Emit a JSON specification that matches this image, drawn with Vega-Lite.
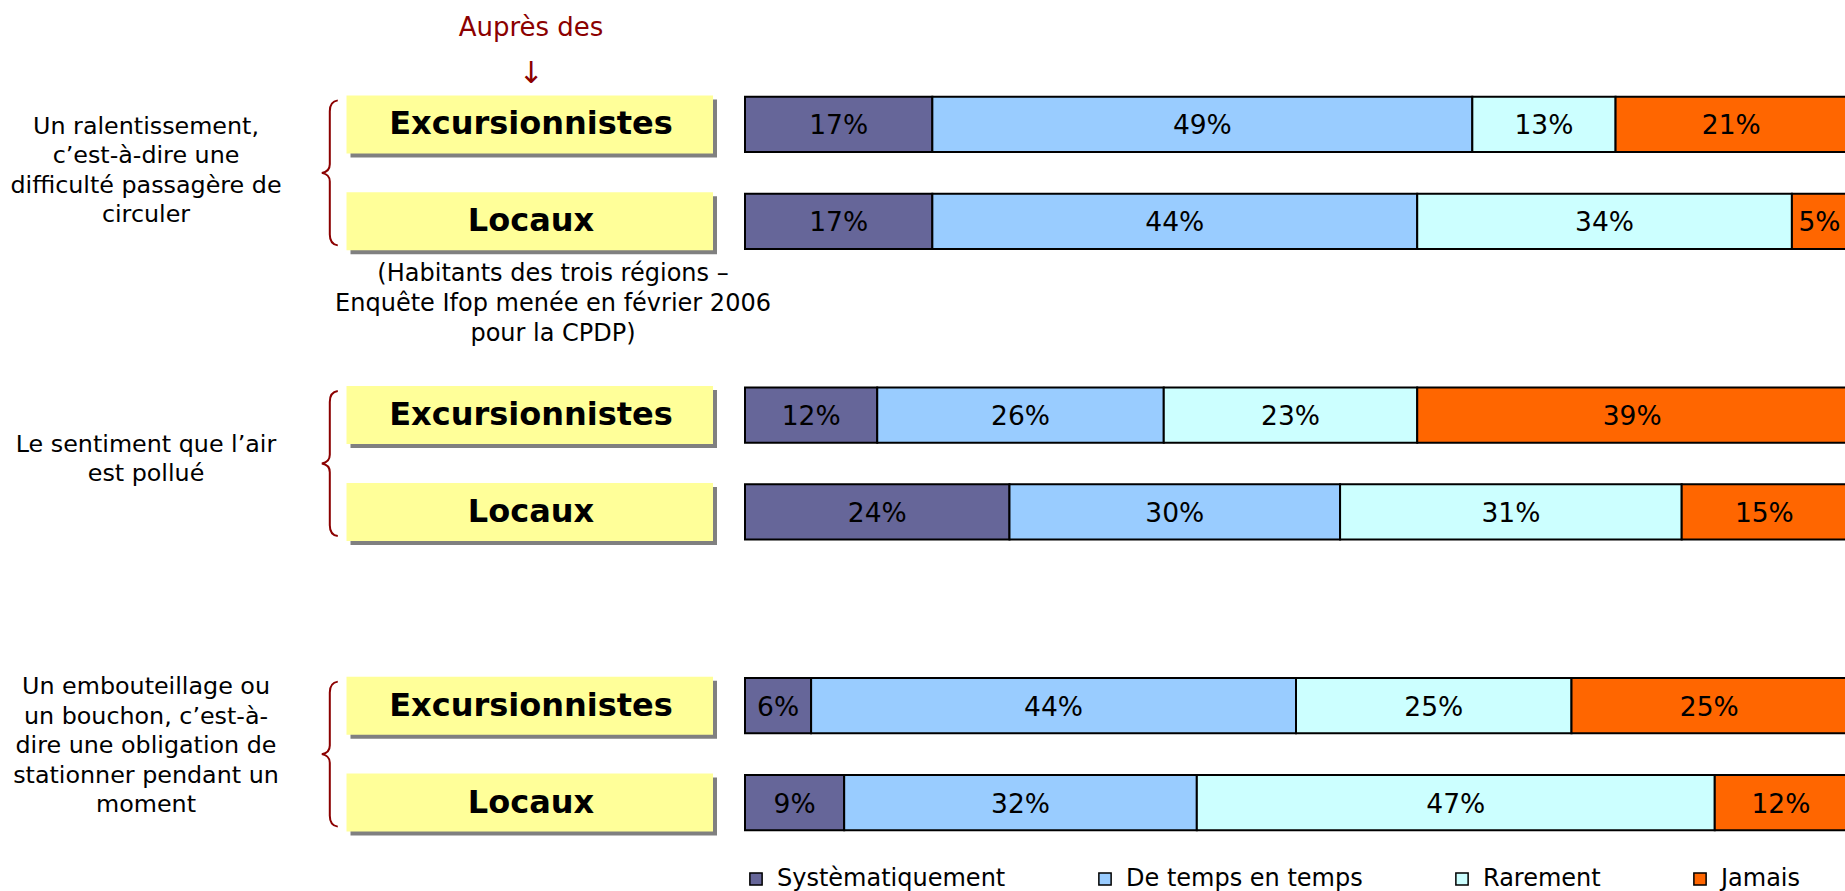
{
  "$schema": "https://vega.github.io/schema/vega-lite/v6.json",
  "width": 1845,
  "height": 891,
  "autosize": {"type": "fit", "contains": "padding"},
  "padding": 0,
  "background": "#ffffff",
  "config": {"view": {"stroke": null}, "font": "DejaVu Sans"},
  "datasets": {
    "survey": [
      {"question": "q1", "sample": "Excursionnistes", "response": "Systèmatiquement", "rank": 1, "share": 0.17},
      {"question": "q1", "sample": "Excursionnistes", "response": "De temps en temps", "rank": 2, "share": 0.49},
      {"question": "q1", "sample": "Excursionnistes", "response": "Rarement", "rank": 3, "share": 0.13},
      {"question": "q1", "sample": "Excursionnistes", "response": "Jamais", "rank": 4, "share": 0.21},
      {"question": "q1", "sample": "Locaux", "response": "Systèmatiquement", "rank": 1, "share": 0.17},
      {"question": "q1", "sample": "Locaux", "response": "De temps en temps", "rank": 2, "share": 0.44},
      {"question": "q1", "sample": "Locaux", "response": "Rarement", "rank": 3, "share": 0.34},
      {"question": "q1", "sample": "Locaux", "response": "Jamais", "rank": 4, "share": 0.05},
      {"question": "q2", "sample": "Excursionnistes", "response": "Systèmatiquement", "rank": 1, "share": 0.12},
      {"question": "q2", "sample": "Excursionnistes", "response": "De temps en temps", "rank": 2, "share": 0.26},
      {"question": "q2", "sample": "Excursionnistes", "response": "Rarement", "rank": 3, "share": 0.23},
      {"question": "q2", "sample": "Excursionnistes", "response": "Jamais", "rank": 4, "share": 0.39},
      {"question": "q2", "sample": "Locaux", "response": "Systèmatiquement", "rank": 1, "share": 0.24},
      {"question": "q2", "sample": "Locaux", "response": "De temps en temps", "rank": 2, "share": 0.30},
      {"question": "q2", "sample": "Locaux", "response": "Rarement", "rank": 3, "share": 0.31},
      {"question": "q2", "sample": "Locaux", "response": "Jamais", "rank": 4, "share": 0.15},
      {"question": "q3", "sample": "Excursionnistes", "response": "Systèmatiquement", "rank": 1, "share": 0.06},
      {"question": "q3", "sample": "Excursionnistes", "response": "De temps en temps", "rank": 2, "share": 0.44},
      {"question": "q3", "sample": "Excursionnistes", "response": "Rarement", "rank": 3, "share": 0.25},
      {"question": "q3", "sample": "Excursionnistes", "response": "Jamais", "rank": 4, "share": 0.25},
      {"question": "q3", "sample": "Locaux", "response": "Systèmatiquement", "rank": 1, "share": 0.09},
      {"question": "q3", "sample": "Locaux", "response": "De temps en temps", "rank": 2, "share": 0.32},
      {"question": "q3", "sample": "Locaux", "response": "Rarement", "rank": 3, "share": 0.47},
      {"question": "q3", "sample": "Locaux", "response": "Jamais", "rank": 4, "share": 0.12}
    ],
    "questions": [
      {"question": "q1", "label": "Un ralentissement,\nc’est-à-dire une\ndifficulté passagère de\ncirculer"},
      {"question": "q2", "label": "Le sentiment que l’air\nest pollué"},
      {"question": "q3", "label": "Un embouteillage ou\nun bouchon, c’est-à-\ndire une obligation de\nstationner pendant un\nmoment"}
    ]
  },
  "resolve": {"scale": {"x": "independent"}},
  "layer": [
    {
      "data": {"name": "survey"},
      "transform": [
        {"stack": "share", "groupby": ["question", "sample"], "sort": [{"field": "rank", "order": "ascending"}], "as": ["s0", "s1"]}
      ],
      "layer": [
        {
          "mark": {"type": "bar", "stroke": "#000000", "strokeWidth": 2},
          "encoding": {
            "y": {"field": "question", "type": "nominal", "scale": {"domain": ["q1", "q2", "q3"], "range": [76, 851], "paddingInner": 0.3333, "paddingOuter": 0}, "axis": null},
            "yOffset": {"field": "sample", "type": "nominal", "scale": {"domain": ["Excursionnistes", "Locaux"], "paddingInner": 0.43, "paddingOuter": 0.215}},
            "x": {"field": "s0", "type": "quantitative", "scale": {"domain": [0, 1], "range": [745, 1847], "nice": false, "zero": false}, "axis": null},
            "x2": {"field": "s1"},
            "color": {
              "field": "response",
              "type": "nominal",
              "scale": {"domain": ["Systèmatiquement", "De temps en temps", "Rarement", "Jamais"], "range": ["#666699", "#99CCFF", "#CCFFFF", "#FF6600"]},
              "legend": {
                "orient": "none", "legendX": 744, "legendY": 867, "direction": "horizontal", "title": null,
                "padding": 0, "symbolType": "square", "symbolSize": 150, "symbolStrokeColor": "#000000", "symbolStrokeWidth": 1.5,
                "labelFontSize": 24, "labelFont": "DejaVu Sans", "labelColor": "#000000", "labelOffset": 9,
                "columnPadding": 87, "labelLimit": 400
              }
            }
          }
        },
        {
          "transform": [
            {"fold": ["s0", "s1"], "as": ["edge", "pos"]},
            {"aggregate": [{"op": "mean", "field": "pos", "as": "mid"}], "groupby": ["question", "sample", "response", "share"]}
          ],
          "mark": {"type": "text", "fontSize": 26.5, "dy": 2, "color": "#000000", "baseline": "middle", "align": "center", "font": "DejaVu Sans"},
          "encoding": {
            "y": {"field": "question", "type": "nominal", "scale": {"domain": ["q1", "q2", "q3"], "range": [76, 851], "paddingInner": 0.3333, "paddingOuter": 0}, "axis": null},
            "yOffset": {"field": "sample", "type": "nominal", "scale": {"domain": ["Excursionnistes", "Locaux"], "paddingInner": 0.43, "paddingOuter": 0.215}},
            "x": {"field": "mid", "type": "quantitative", "scale": {"domain": [0, 1], "range": [745, 1847], "nice": false, "zero": false}, "axis": null},
            "text": {"field": "share", "type": "quantitative", "format": ".0%"}
          }
        }
      ]
    },
    {
      "layer": [
        {
          "data": {"name": "survey"},
          "transform": [{"aggregate": [{"op": "count", "as": "n"}], "groupby": ["question", "sample"]}],
          "mark": {"type": "point", "shape": "M-0.9025,-0.125L0.93,-0.125L0.93,0.165L-0.9025,0.165Z", "size": 160000, "filled": true, "fill": "#808080", "strokeWidth": 0, "opacity": 1},
          "encoding": {
            "x": {"datum": "sample", "type": "nominal", "scale": {"type": "point", "domain": ["question", "brace", "sample"], "range": [146, 531], "padding": 0}, "axis": null},
            "y": {"field": "question", "type": "nominal", "scale": {"domain": ["q1", "q2", "q3"], "range": [76, 851], "paddingInner": 0.3333, "paddingOuter": 0}, "axis": null},
            "yOffset": {"field": "sample", "type": "nominal", "scale": {"domain": ["Excursionnistes", "Locaux"], "paddingInner": 0.43, "paddingOuter": 0.215}}
          }
        },
        {
          "data": {"name": "survey"},
          "transform": [{"aggregate": [{"op": "count", "as": "n"}], "groupby": ["question", "sample"]}],
          "mark": {"type": "point", "shape": "M-0.9225,-0.145L0.91,-0.145L0.91,0.145L-0.9225,0.145Z", "size": 160000, "filled": true, "fill": "#FFFF99", "strokeWidth": 0, "opacity": 1},
          "encoding": {
            "x": {"datum": "sample", "type": "nominal", "scale": {"type": "point", "domain": ["question", "brace", "sample"], "range": [146, 531], "padding": 0}, "axis": null},
            "y": {"field": "question", "type": "nominal", "scale": {"domain": ["q1", "q2", "q3"], "range": [76, 851], "paddingInner": 0.3333, "paddingOuter": 0}, "axis": null},
            "yOffset": {"field": "sample", "type": "nominal", "scale": {"domain": ["Excursionnistes", "Locaux"], "paddingInner": 0.43, "paddingOuter": 0.215}}
          }
        },
        {
          "data": {"name": "survey"},
          "transform": [{"aggregate": [{"op": "count", "as": "n"}], "groupby": ["question", "sample"]}],
          "mark": {"type": "text", "fontSize": 32, "fontWeight": "bold", "color": "#000000", "baseline": "middle", "align": "center", "font": "DejaVu Sans"},
          "encoding": {
            "x": {"datum": "sample", "type": "nominal", "scale": {"type": "point", "domain": ["question", "brace", "sample"], "range": [146, 531], "padding": 0}, "axis": null},
            "y": {"field": "question", "type": "nominal", "scale": {"domain": ["q1", "q2", "q3"], "range": [76, 851], "paddingInner": 0.3333, "paddingOuter": 0}, "axis": null},
            "yOffset": {"field": "sample", "type": "nominal", "scale": {"domain": ["Excursionnistes", "Locaux"], "paddingInner": 0.43, "paddingOuter": 0.215}},
            "text": {"field": "sample", "type": "nominal"}
          }
        },
        {
          "data": {"name": "questions"},
          "mark": {"type": "point", "shape": "M-0.01,-1C-0.08,-0.99 -0.12,-0.95 -0.12,-0.85L-0.12,-0.12C-0.12,-0.04 -0.17,-0.01 -0.23,0C-0.17,0.01 -0.12,0.04 -0.12,0.12L-0.12,0.85C-0.12,0.95 -0.08,0.99 -0.01,1", "size": 21025, "filled": false, "stroke": "#8B0000", "strokeWidth": 2, "opacity": 1},
          "encoding": {
            "x": {"datum": "brace", "type": "nominal", "scale": {"type": "point", "domain": ["question", "brace", "sample"], "range": [146, 531], "padding": 0}, "axis": null},
            "y": {"field": "question", "type": "nominal", "scale": {"domain": ["q1", "q2", "q3"], "range": [76, 851], "paddingInner": 0.3333, "paddingOuter": 0}, "axis": null}
          }
        },
        {
          "data": {"name": "questions"},
          "transform": [{"filter": "datum.question === 'q1'"}],
          "mark": {"type": "text", "fontSize": 23.8, "lineBreak": "\n", "lineHeight": 29.5, "dy": -46, "color": "#000000", "baseline": "middle", "align": "center", "font": "DejaVu Sans"},
          "encoding": {
            "x": {"datum": "question", "type": "nominal", "scale": {"type": "point", "domain": ["question", "brace", "sample"], "range": [146, 531], "padding": 0}, "axis": null},
            "y": {"field": "question", "type": "nominal", "scale": {"domain": ["q1", "q2", "q3"], "range": [76, 851], "paddingInner": 0.3333, "paddingOuter": 0}, "axis": null},
            "text": {"field": "label", "type": "nominal"}
          }
        },
        {
          "data": {"name": "questions"},
          "transform": [{"filter": "datum.question === 'q2'"}],
          "mark": {"type": "text", "fontSize": 23.8, "lineBreak": "\n", "lineHeight": 29.5, "dy": -19, "color": "#000000", "baseline": "middle", "align": "center", "font": "DejaVu Sans"},
          "encoding": {
            "x": {"datum": "question", "type": "nominal", "scale": {"type": "point", "domain": ["question", "brace", "sample"], "range": [146, 531], "padding": 0}, "axis": null},
            "y": {"field": "question", "type": "nominal", "scale": {"domain": ["q1", "q2", "q3"], "range": [76, 851], "paddingInner": 0.3333, "paddingOuter": 0}, "axis": null},
            "text": {"field": "label", "type": "nominal"}
          }
        },
        {
          "data": {"name": "questions"},
          "transform": [{"filter": "datum.question === 'q3'"}],
          "mark": {"type": "text", "fontSize": 23.8, "lineBreak": "\n", "lineHeight": 29.5, "dy": -67, "color": "#000000", "baseline": "middle", "align": "center", "font": "DejaVu Sans"},
          "encoding": {
            "x": {"datum": "question", "type": "nominal", "scale": {"type": "point", "domain": ["question", "brace", "sample"], "range": [146, 531], "padding": 0}, "axis": null},
            "y": {"field": "question", "type": "nominal", "scale": {"domain": ["q1", "q2", "q3"], "range": [76, 851], "paddingInner": 0.3333, "paddingOuter": 0}, "axis": null},
            "text": {"field": "label", "type": "nominal"}
          }
        },
        {
          "data": {"values": [{"note": "Auprès des"}]},
          "mark": {"type": "text", "fontSize": 26, "dy": -145, "color": "#8B0000", "baseline": "middle", "align": "center", "font": "DejaVu Sans"},
          "encoding": {
            "x": {"datum": "sample", "type": "nominal", "scale": {"type": "point", "domain": ["question", "brace", "sample"], "range": [146, 531], "padding": 0}, "axis": null},
            "y": {"datum": "q1", "type": "nominal", "scale": {"domain": ["q1", "q2", "q3"], "range": [76, 851], "paddingInner": 0.3333, "paddingOuter": 0}, "axis": null},
            "text": {"field": "note", "type": "nominal"}
          }
        },
        {
          "data": {"values": [{"note": "↓"}]},
          "mark": {"type": "text", "fontSize": 30, "dy": -99, "color": "#8B0000", "baseline": "middle", "align": "center", "font": "DejaVu Sans", "fontWeight": "normal"},
          "encoding": {
            "x": {"datum": "sample", "type": "nominal", "scale": {"type": "point", "domain": ["question", "brace", "sample"], "range": [146, 531], "padding": 0}, "axis": null},
            "y": {"datum": "q1", "type": "nominal", "scale": {"domain": ["q1", "q2", "q3"], "range": [76, 851], "paddingInner": 0.3333, "paddingOuter": 0}, "axis": null},
            "text": {"field": "note", "type": "nominal"}
          }
        },
        {
          "data": {"values": [{"note": "(Habitants des trois régions –\nEnquête Ifop menée en février 2006\npour la CPDP)"}]},
          "mark": {"type": "text", "fontSize": 24, "lineBreak": "\n", "lineHeight": 30, "dy": 101, "dx": 22, "color": "#000000", "baseline": "middle", "align": "center", "font": "DejaVu Sans"},
          "encoding": {
            "x": {"datum": "sample", "type": "nominal", "scale": {"type": "point", "domain": ["question", "brace", "sample"], "range": [146, 531], "padding": 0}, "axis": null},
            "y": {"datum": "q1", "type": "nominal", "scale": {"domain": ["q1", "q2", "q3"], "range": [76, 851], "paddingInner": 0.3333, "paddingOuter": 0}, "axis": null},
            "text": {"field": "note", "type": "nominal"}
          }
        }
      ]
    }
  ]
}
